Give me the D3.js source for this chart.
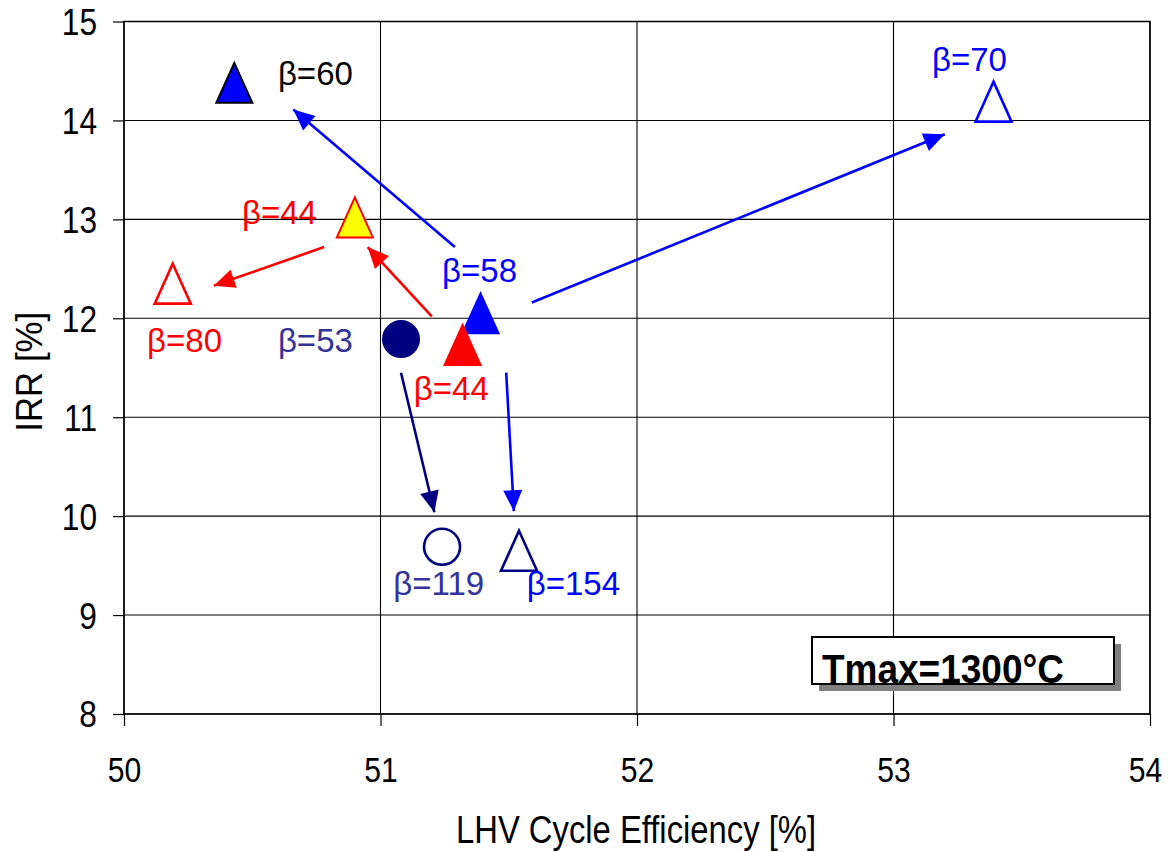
<!DOCTYPE html>
<html>
<head>
<meta charset="utf-8">
<script src="https://cdn.jsdelivr.net/npm/d3@7"></script>
<style>
  html, body { margin: 0; padding: 0; background: #fff; }
  svg { display: block; font-family: "Liberation Sans", Arial, sans-serif; }
</style>
</head>
<body>
<svg id="chart" width="1171" height="852"></svg>
<script>
// ---- data ----
const xTicks = [50, 51, 52, 53, 54];
const yTicks = [8, 9, 10, 11, 12, 13, 14, 15];
const xTitle = "LHV Cycle Efficiency [%]";
const yTitle = "IRR [%]";
const boxText = "Tmax=1300°C";

const pointLabels = ["β=60", "β=44", "β=80", "β=53", "β=58", "β=44", "β=119", "β=154", "β=70"];
const efficiency  = [50.43, 50.90, 50.19, 51.08, 51.39, 51.32, 51.24, 51.54, 53.39];
const irr         = [14.38, 13.02, 12.35, 11.79, 12.05, 11.73, 9.69, 9.65, 14.19];
const shapes      = ["tri", "tri", "tri", "circle", "tri", "tri", "circle", "tri", "tri"];

// label anchor positions (data units: left x, baseline y)
const labelX = [50.60, 50.46, 50.09, 50.60, 51.24, 51.13, 51.05, 51.57, 53.15];
const labelY = [14.36, 12.95, 11.66, 11.66, 12.37, 11.17, 9.20, 9.20, 14.50];

// arrows (data units)
const arrowFromX = [51.29, 51.59, 51.20, 50.78, 51.08, 51.49];
const arrowFromY = [12.72, 12.16, 12.02, 12.72, 11.45, 11.45];
const arrowToX   = [50.66, 53.20, 50.95, 50.35, 51.21, 51.52];
const arrowToY   = [14.11, 13.86, 12.72, 12.33, 10.04, 10.05];

// ---- styles ----
const markerFill   = ["#0000FF", "#FFFF00", "#FFFFFF", "#000080", "#0000FF", "#FF0000", "#FFFFFF", "#FFFFFF", "#FFFFFF"];
const markerStroke = ["#000000", "#FF0000", "#FF0000", "#000080", "#0000FF", "#FF0000", "#000080", "#000080", "#0000FF"];
const labelColor   = ["#000000", "#FF0000", "#FF0000", "#333399", "#0000FF", "#FF0000", "#333399", "#0000FF", "#0000FF"];
const arrowColor   = ["#0000FF", "#0000FF", "#FF0000", "#FF0000", "#000080", "#0000FF"];

const svg = d3.select("#chart");
const L = 124, R = 1150, T = 21.5, B = 714;
const x = d3.scaleLinear().domain([50, 54]).range([L, R]);
const y = d3.scaleLinear().domain([8, 15]).range([B, T]);

// grid
const grid = svg.append("g");
grid.selectAll("line.vx").data(xTicks).join("line")
  .attr("x1", d => x(d)).attr("x2", d => x(d)).attr("y1", T).attr("y2", B)
  .attr("stroke", "#000").attr("stroke-width", 1.1);
grid.selectAll("line.hy").data(yTicks).join("line")
  .attr("x1", L).attr("x2", R).attr("y1", d => y(d)).attr("y2", d => y(d))
  .attr("stroke", "#000").attr("stroke-width", 1.1);

// axes
function condense(sel, f) {
  sel.each(function () {
    const w = this.getComputedTextLength();
    d3.select(this).attr("textLength", w * f).attr("lengthAdjust", "spacingAndGlyphs");
  });
}
const xAxis = svg.append("g").attr("transform", `translate(0,${B})`)
  .call(d3.axisBottom(x).tickValues(xTicks).tickSize(12).tickFormat(d3.format("d")));
xAxis.select(".domain").remove();
xAxis.selectAll("line").attr("stroke", "#000").attr("stroke-width", 1.2);
xAxis.selectAll("text").attr("y", 68).attr("dy", 0)
  .attr("dx", d => (d === xTicks[xTicks.length - 1] ? -5 : 0))
  .attr("font-size", 35).attr("fill", "#000").attr("font-family", "Liberation Sans, Arial, sans-serif")
  .call(condense, 0.86);

const yAxis = svg.append("g").attr("transform", `translate(${L},0)`)
  .call(d3.axisLeft(y).tickValues(yTicks).tickSize(11).tickPadding(16).tickFormat(d3.format("d")));
yAxis.select(".domain").remove();
yAxis.selectAll("line").attr("stroke", "#000").attr("stroke-width", 1.2);
yAxis.selectAll("text").attr("dy", "0.36em")
  .attr("font-size", 36).attr("fill", "#000").attr("font-family", "Liberation Sans, Arial, sans-serif")
  .call(condense, 0.88);

// plot border
svg.append("rect").attr("x", L).attr("y", T).attr("width", R - L).attr("height", B - T)
  .attr("fill", "none").attr("stroke", "#000").attr("stroke-width", 1.5);

// titles
svg.append("text").attr("x", (L + R) / 2 - 1).attr("y", 843).attr("text-anchor", "middle")
  .attr("font-size", 38).attr("fill", "#000").attr("textLength", 360).attr("lengthAdjust", "spacingAndGlyphs")
  .text(xTitle);
svg.append("text").attr("transform", `translate(42,${(T + B) / 2 + 4}) rotate(-90)`).attr("text-anchor", "middle")
  .attr("font-size", 36).attr("fill", "#000").attr("textLength", 120).attr("lengthAdjust", "spacingAndGlyphs")
  .text(yTitle);

// arrow heads
const defs = svg.append("defs");
const colorsUsed = Array.from(new Set(arrowColor));
colorsUsed.forEach((c, i) => {
  defs.append("marker").attr("id", "ah" + i)
    .attr("markerUnits", "userSpaceOnUse").attr("markerWidth", 24).attr("markerHeight", 24)
    .attr("viewBox", "-22 -11 24 22").attr("refX", 0).attr("refY", 0).attr("orient", "auto")
    .append("path").attr("d", "M0,0 L-21,-9.5 L-21,9.5 Z").attr("fill", c);
});
const arrowIdx = arrowFromX.map((_, i) => i);
svg.append("g").selectAll("line").data(arrowIdx).join("line")
  .attr("x1", i => x(arrowFromX[i])).attr("y1", i => y(arrowFromY[i]))
  .attr("x2", i => x(arrowToX[i])).attr("y2", i => y(arrowToY[i]))
  .attr("stroke", i => arrowColor[i]).attr("stroke-width", 2.6)
  .attr("marker-end", i => `url(#ah${colorsUsed.indexOf(arrowColor[i])})`);

// markers
const triW = 36, triH = 40, circR = 18;
const idx = efficiency.map((_, i) => i);
svg.append("g").selectAll("path").data(idx).join("path")
  .attr("transform", i => `translate(${x(efficiency[i])},${y(irr[i])})`)
  .attr("d", i => shapes[i] === "tri"
    ? `M0,${-triH / 2} L${triW / 2},${triH / 2} L${-triW / 2},${triH / 2} Z`
    : d3.arc()({innerRadius: 0, outerRadius: circR, startAngle: 0, endAngle: 2 * Math.PI}))
  .attr("fill", i => markerFill[i]).attr("stroke", i => markerStroke[i])
  .attr("stroke-width", i => (markerFill[i] === "#FFFFFF" ? 2.6 : 2))
  .attr("stroke-linejoin", "miter");

// labels
svg.append("g").selectAll("text").data(idx).join("text")
  .attr("x", i => x(labelX[i])).attr("y", i => y(labelY[i]))
  .attr("font-size", 33).attr("fill", i => labelColor[i])
  .text(i => pointLabels[i]);

// Tmax box
const bx = 812, by = 637, bw = 302, bh = 47;
svg.append("rect").attr("x", bx + 7).attr("y", by + 7).attr("width", bw).attr("height", bh).attr("fill", "#808080");
svg.append("rect").attr("x", bx).attr("y", by).attr("width", bw).attr("height", bh)
  .attr("fill", "#fff").attr("stroke", "#000").attr("stroke-width", 2);
svg.append("text").attr("x", 822).attr("y", 683).attr("font-size", 41).attr("font-weight", "bold")
  .attr("fill", "#000").attr("textLength", 242).attr("lengthAdjust", "spacingAndGlyphs").text(boxText);
</script>
</body>
</html>
